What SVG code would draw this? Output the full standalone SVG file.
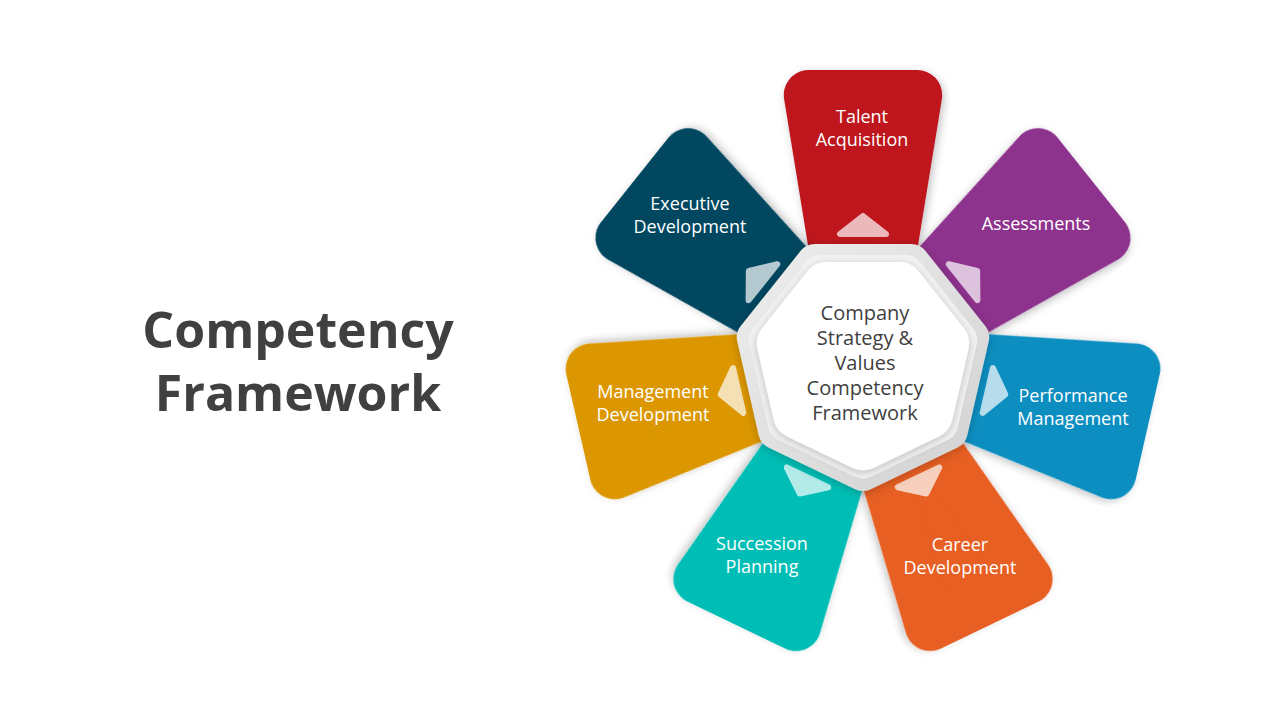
<svg xmlns="http://www.w3.org/2000/svg" width="1280" height="720" viewBox="0 0 1280 720">
<defs>
<filter id="sh" x="-30%" y="-30%" width="160%" height="160%">
<feDropShadow dx="2" dy="3" stdDeviation="4" flood-color="#000" flood-opacity="0.25"/>
</filter>
<filter id="sh2" x="-30%" y="-30%" width="160%" height="160%">
<feDropShadow dx="0" dy="2" stdDeviation="4" flood-color="#000" flood-opacity="0.22"/>
</filter>
<linearGradient id="gr" x1="-120" y1="-120" x2="120" y2="120" gradientUnits="userSpaceOnUse">
<stop offset="0" stop-color="#eeeeee"/>
<stop offset="1" stop-color="#d2d2d2"/>
</linearGradient>
</defs>
<style>
.petal{stroke-width:50;stroke-linejoin:round;filter:url(#sh)}
.tri{fill:#fff;stroke:#fff;stroke-width:6;stroke-linejoin:round;opacity:0.7}
.lbl{font-family:"Open Sans","Noto Sans",sans-serif;font-size:18px;fill:#fff;text-anchor:middle}
.ctr{font-family:"Open Sans","Noto Sans",sans-serif;font-size:20px;fill:#404040;text-anchor:middle}
.title{font-family:"Open Sans","Noto Sans",sans-serif;font-size:50px;font-weight:bold;fill:#404040;text-anchor:middle}
</style>
<rect width="1280" height="720" fill="#fff"/>
<g id="title">
<text class="title" x="298" y="348">Competency</text>
<text class="title" x="298" y="411">Framework</text>
</g>
<g id="petal-talent">
<g transform="translate(863,362) rotate(0)">
<polygon class="petal" fill="#BE131D" stroke="#BE131D" points="-23.7,-80 -54.2,-267 54.2,-267 23.7,-80"/>
<polygon class="tri" points="0,-146 -23,-128 23,-128"/>
</g>
<text class="lbl" x="862" y="123">Talent</text>
<text class="lbl" x="862" y="146">Acquisition</text>
</g>
<g id="petal-assessments">
<g transform="translate(863,362) rotate(51.43)">
<polygon class="petal" fill="#8D318D" stroke="#8D318D" points="-23.7,-80 -54.2,-267 54.2,-267 23.7,-80"/>
<polygon class="tri" points="0,-146 -23,-128 23,-128"/>
</g>
<text class="lbl" x="1036" y="230">Assessments</text>
</g>
<g id="petal-performance">
<g transform="translate(863,362) rotate(102.86)">
<polygon class="petal" fill="#0B8EC1" stroke="#0B8EC1" points="-23.7,-80 -54.2,-267 54.2,-267 23.7,-80"/>
<polygon class="tri" points="0,-146 -23,-128 23,-128"/>
</g>
<text class="lbl" x="1073" y="402">Performance</text>
<text class="lbl" x="1073" y="425">Management</text>
</g>
<g id="petal-career">
<g transform="translate(863,362) rotate(154.29)">
<polygon class="petal" fill="#E75E23" stroke="#E75E23" points="-23.7,-80 -54.2,-267 54.2,-267 23.7,-80"/>
<polygon class="tri" points="0,-146 -23,-128 23,-128"/>
</g>
<text class="lbl" x="960" y="551">Career</text>
<text class="lbl" x="960" y="574">Development</text>
</g>
<g id="petal-succession">
<g transform="translate(863,362) rotate(205.71)">
<polygon class="petal" fill="#00BEB5" stroke="#00BEB5" points="-23.7,-80 -54.2,-267 54.2,-267 23.7,-80"/>
<polygon class="tri" points="0,-146 -23,-128 23,-128"/>
</g>
<text class="lbl" x="762" y="550">Succession</text>
<text class="lbl" x="762" y="573">Planning</text>
</g>
<g id="petal-management">
<g transform="translate(863,362) rotate(257.14)">
<polygon class="petal" fill="#DC9700" stroke="#DC9700" points="-23.7,-80 -54.2,-267 54.2,-267 23.7,-80"/>
<polygon class="tri" points="0,-146 -23,-128 23,-128"/>
</g>
<text class="lbl" x="653" y="398">Management</text>
<text class="lbl" x="653" y="421">Development</text>
</g>
<g id="petal-executive">
<g transform="translate(863,362) rotate(308.57)">
<polygon class="petal" fill="#05465F" stroke="#05465F" points="-23.7,-80 -54.2,-267 54.2,-267 23.7,-80"/>
<polygon class="tri" points="0,-146 -23,-128 23,-128"/>
</g>
<text class="lbl" x="690" y="210">Executive</text>
<text class="lbl" x="690" y="233">Development</text>
</g>
<g id="center">
<g transform="translate(863,362)">
<polygon fill="url(#gr)" stroke="url(#gr)" stroke-width="36" stroke-linejoin="round" filter="url(#sh2)" points="0,111 -86.8,69.2 -108.2,-24.7 -48.2,-100.0 48.2,-100.0 108.2,-24.7 86.8,69.2"/>
<polygon fill="#f2f2f2" stroke="#f2f2f2" stroke-width="40" stroke-linejoin="round" points="0,96.6 -75.5,60.2 -94.2,-21.5 -41.9,-87.0 41.9,-87.0 94.2,-21.5 75.5,60.2"/>
<polygon fill="#fff" stroke="#fff" stroke-width="50" stroke-linejoin="round" filter="url(#sh2)" points="0,83.2 -65.0,51.9 -81.1,-18.5 -36.1,-75.0 36.1,-75.0 81.1,-18.5 65.0,51.9"/>
</g>
<text class="ctr" x="865" y="320">Company</text>
<text class="ctr" x="865" y="345">Strategy &amp;</text>
<text class="ctr" x="865" y="370">Values</text>
<text class="ctr" x="865" y="395">Competency</text>
<text class="ctr" x="865" y="420">Framework</text>
</g>
</svg>
